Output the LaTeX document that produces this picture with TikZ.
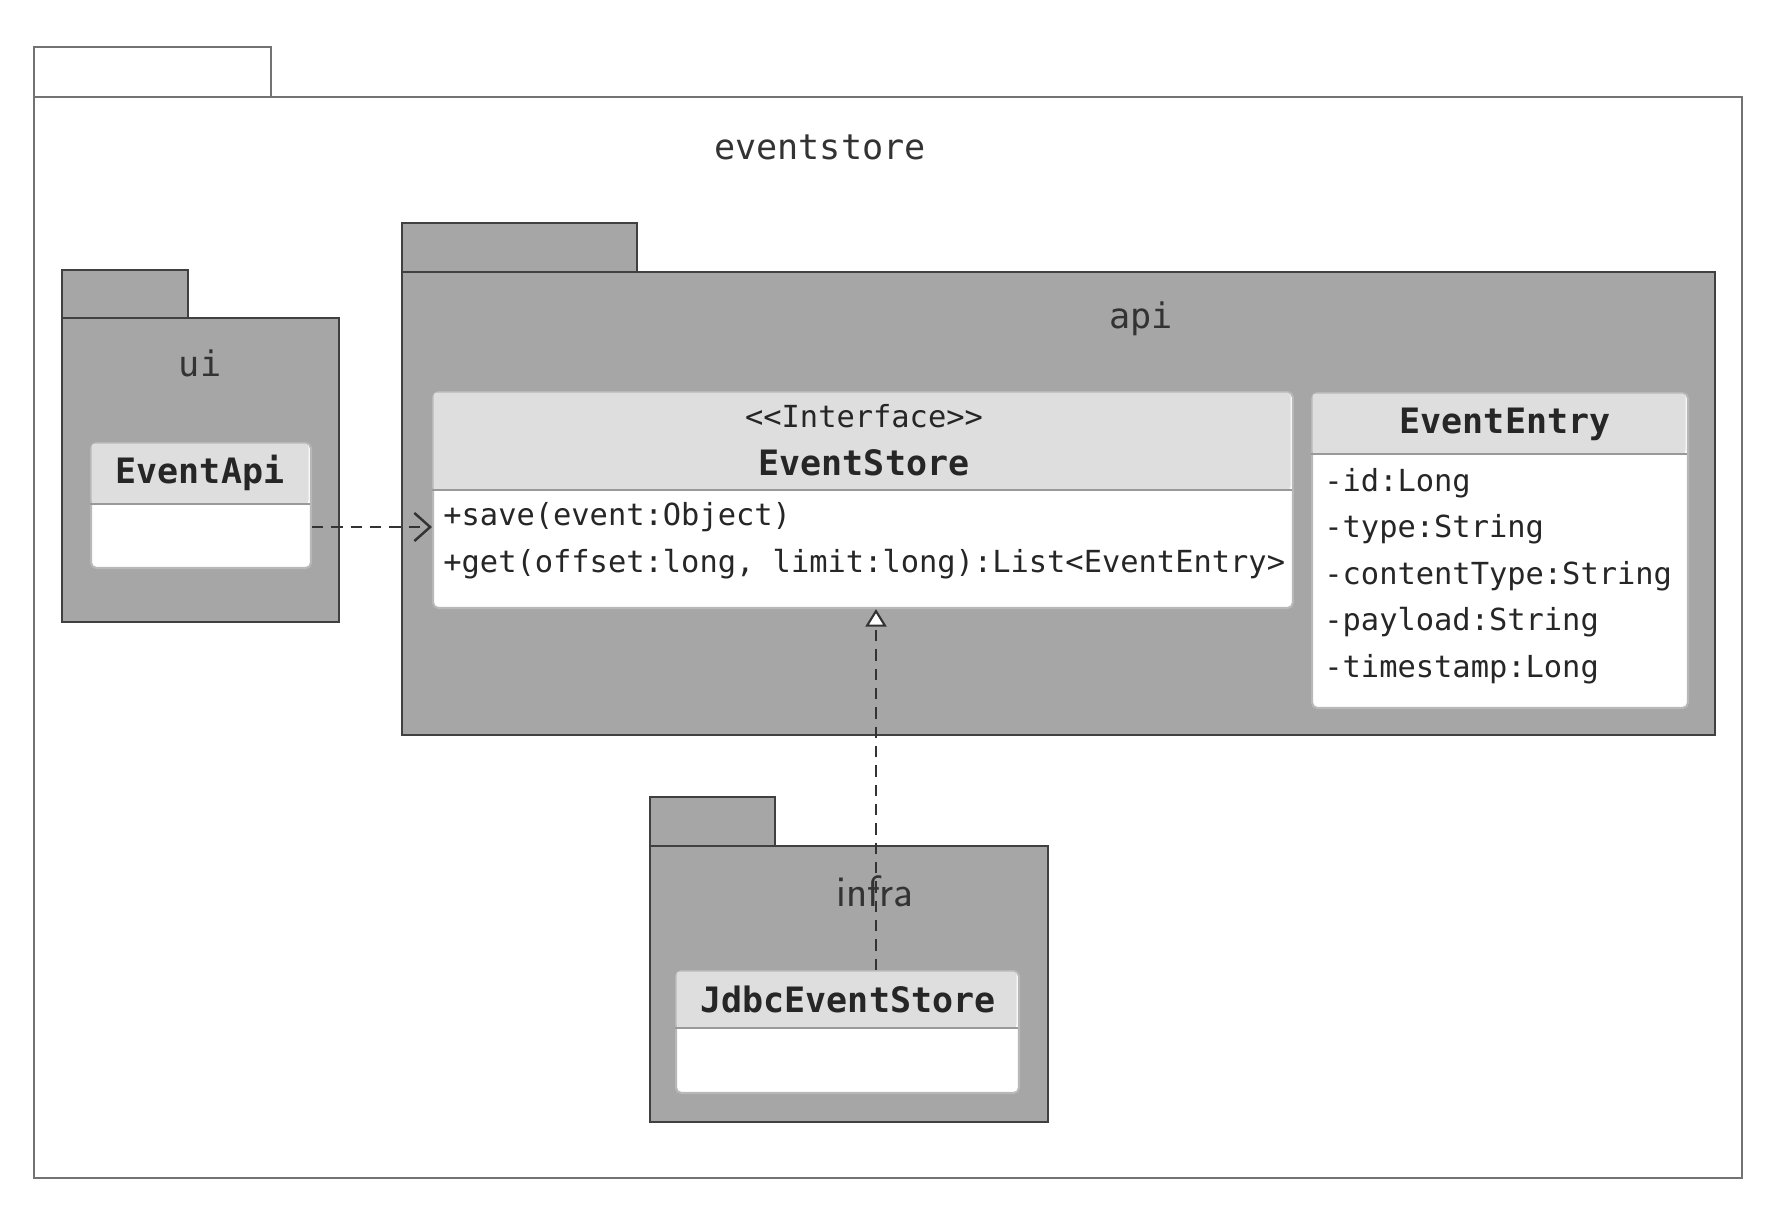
\documentclass[tikz,border=0pt]{standalone}
\usepackage{fontspec}
\setmainfont{DejaVu Sans}
\setmonofont{DejaVu Sans Mono}
\usetikzlibrary{arrows.meta}
\begin{document}
\begin{tikzpicture}[x=0.02cm,y=-0.02cm,
  outerpkg/.style={draw=black!55, fill=white, line width=1.5pt},
  pkgbody/.style={draw=black!75, fill=black!35, line width=1.6pt},
  classbox/.style={draw=black!28, fill=white, line width=1.2pt, rounded corners=3pt, anchor=north west, inner sep=0pt},
  hdr/.style={fill=black!13},
  sep/.style={draw=black!40, line width=1pt},
  mem/.style={font=\fontsize{17.3}{20}\selectfont\ttfamily, anchor=west, inner sep=0pt, text=black!85},
  cname/.style={font=\fontsize{19.9}{22}\selectfont\ttfamily\bfseries, inner sep=0pt, text=black!85},
  stereo/.style={font=\fontsize{17.3}{20}\selectfont\ttfamily, inner sep=0pt, text=black!85},
  plabel/.style={font=\fontsize{20}{22}\selectfont\ttfamily, inner sep=0pt, text=black!80},
  slabel/.style={font=\fontsize{25}{28}\selectfont\sffamily, inner sep=0pt, text=black!80},
  dep/.style={draw=black!80, line width=1.3pt, dash pattern=on 6.5pt off 4.5pt}
]
\useasboundingbox (0,0) rectangle (1768,1210);

% outer package eventstore
\draw[outerpkg] (34,47) rectangle (271,97);
\draw[outerpkg] (34,97) rectangle (1742,1178);
\node[plabel] (lbles) at (820,147) {eventstore};

% ui package
\draw[pkgbody] (62,270) rectangle (188,318);
\draw[pkgbody] (62,318) rectangle (339,622);
\node[plabel] (lblui) at (200,363) {ui};

% api package
\draw[pkgbody] (402,223) rectangle (637,272);
\draw[pkgbody] (402,272) rectangle (1715,735);
\node[plabel] (lblapi) at (1141,319) {api};

% infra package
\draw[pkgbody] (650,797) rectangle (775,846);
\draw[pkgbody] (650,846) rectangle (1048,1122);
\node[slabel] (lblinfra) at (875,891) {infra};

% EventApi class
\node[classbox, minimum width=4.4cm, minimum height=2.5cm] (ea) at (90,442) {};
\fill[hdr, rounded corners=2pt] (91.5,443.5) rectangle (308.5,504);
\draw[sep] (90,504) -- (310,504);
\node[cname] (eaname) at (200,473) {EventApi};

% EventStore interface
\node[classbox, minimum width=17.2cm, minimum height=4.32cm] (es) at (432,391) {};
\fill[hdr, rounded corners=2pt] (433.5,392.5) rectangle (1290.5,490);
\draw[sep] (432,490) -- (1292,490);
\node[stereo] (esst) at (864,416) {<<Interface>>};
\node[cname] (esname) at (864,463) {EventStore};
\node[mem] (esm1) at (443,517) {+save(event:Object)};
\node[mem] (esm2) at (443,564) {+get(offset:long, limit:long):List<EventEntry>};

% EventEntry class
\node[classbox, minimum width=7.52cm, minimum height=6.3cm] (ee) at (1311,392) {};
\fill[hdr, rounded corners=2pt] (1312.5,393.5) rectangle (1685.5,454);
\draw[sep] (1311,454) -- (1687,454);
\node[cname] (eename) at (1505,424) {EventEntry};
\node[mem] (eea1) at (1324,483) {-id:Long};
\node[mem] (eea2) at (1324,529) {-type:String};
\node[mem] (eea3) at (1324,576) {-contentType:String};
\node[mem] (eea4) at (1324,622) {-payload:String};
\node[mem] (eea5) at (1324,669) {-timestamp:Long};

% JdbcEventStore class
\node[classbox, minimum width=6.86cm, minimum height=2.44cm] (jd) at (675,970) {};
\fill[hdr, rounded corners=2pt] (676.5,971.5) rectangle (1016.5,1028);
\draw[sep] (675,1028) -- (1018,1028);
\node[cname] (jdname) at (848,999) {JdbcEventStore};

% connectors
\coordinate (depy) at (0,527);
\draw[dep, -{Straight Barb[length=9pt, width=16pt, line width=1.4pt]}] (ea.east |- depy) -- (es.west |- depy);
\coordinate (rx) at (876,0);
\draw[dep, -{Triangle[open, length=10pt, width=12pt, fill=white, line width=1.2pt]}] (jd.north -| rx) -- (es.south -| rx);
\end{tikzpicture}
\end{document}
